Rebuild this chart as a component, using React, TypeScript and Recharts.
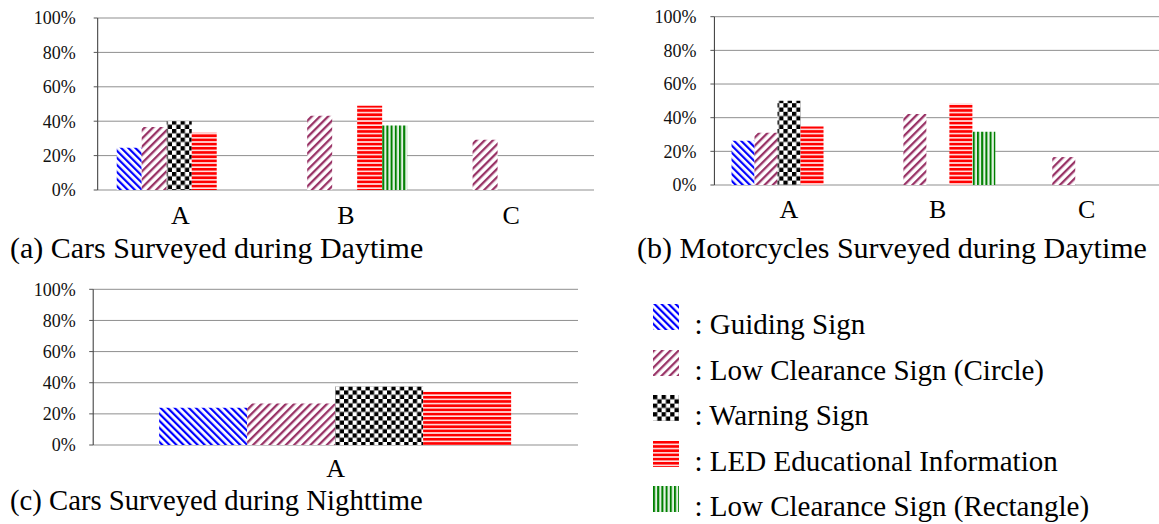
import React from 'react';
import { BarChart, Bar, XAxis, YAxis, CartesianGrid } from 'recharts';

const serif = "'Times New Roman', 'Liberation Serif', Tinos, Times, serif";

// series shared by all three panels
const seriesKeys = ['guiding', 'circle', 'warning', 'led', 'rect'];
const seriesNames = [
  'Guiding Sign',
  'Low Clearance Sign (Circle)',
  'Warning Sign',
  'LED Educational Information',
  'Low Clearance Sign (Rectangle)',
];

const percentTicks = [0, 20, 40, 60, 80, 100];

// (a) cars, daytime
const dayCategories = ['A', 'B', 'C'];
const carsDayGuiding = [24.5, null, null];
const carsDayCircle = [36.7, 43.2, 29.2];
const carsDayWarning = [40, null, null];
const carsDayLed = [33.3, 49, null];
const carsDayRect = [null, 37.5, null];

// (b) motorcycles, daytime
const motoDayGuiding = [26.3, null, null];
const motoDayCircle = [31.1, 42.2, 16.6];
const motoDayWarning = [50, null, null];
const motoDayLed = [34.7, 48.3, null];
const motoDayRect = [null, 31.7, null];

// (c) cars, nighttime
const nightCategories = ['A'];
const carsNightGuiding = [24];
const carsNightCircle = [26.6];
const carsNightWarning = [37.5];
const carsNightLed = [34.2];

const buildRows = (cats: string[], cols: (number | null)[][]) =>
  cats.map((name, i) => {
    const row: any = { name };
    cols.forEach((col, j) => {
      row[seriesKeys[j]] = col[i];
    });
    return row;
  });

const carsDay = buildRows(dayCategories, [carsDayGuiding, carsDayCircle, carsDayWarning, carsDayLed, carsDayRect]);
const motoDay = buildRows(dayCategories, [motoDayGuiding, motoDayCircle, motoDayWarning, motoDayLed, motoDayRect]);
const carsNight = buildRows(nightCategories, [carsNightGuiding, carsNightCircle, carsNightWarning, carsNightLed]);

const Patterns = () => (
  <svg width={0} height={0} style={{ position: 'absolute' }}>
    <defs>
      <pattern id="pat-guiding" patternUnits="userSpaceOnUse" width={5} height={5} patternTransform="rotate(-45)">
        <rect width={5} height={5} fill="#fff" />
        <rect width={2.2} height={5} fill="#0000ff" />
      </pattern>
      <pattern id="pat-circle" patternUnits="userSpaceOnUse" width={5.8} height={5.8} patternTransform="rotate(45)">
        <rect width={5.8} height={5.8} fill="#fff" />
        <rect width={2.3} height={5.8} fill="#993366" />
      </pattern>
      <pattern id="pat-warning" patternUnits="userSpaceOnUse" width={8.6} height={8.6}>
        <rect width={8.6} height={8.6} fill="#fff" />
        <rect width={4.3} height={4.3} fill="#000" />
        <rect x={4.3} y={4.3} width={4.3} height={4.3} fill="#000" />
      </pattern>
      <pattern id="pat-led" patternUnits="userSpaceOnUse" width={4.2} height={4.2}>
        <rect width={4.2} height={4.2} fill="#ffe2e2" />
        <rect width={4.2} height={2.6} fill="#ff0000" />
      </pattern>
      <pattern id="pat-rect" patternUnits="userSpaceOnUse" width={4.2} height={4.2}>
        <rect width={4.2} height={4.2} fill="#e4f2e4" />
        <rect width={2} height={4.2} fill="#008000" />
      </pattern>
    </defs>
  </svg>
);

const SepTick = (props: any) => (
  <line x1={props.x} x2={props.x} y1={props.y - 7} y2={props.y} stroke="#222" strokeWidth={1.2} />
);

interface PanelProps {
  data: any[];
  keys: string[];
  left: number;
  top: number;
  width: number;
  height: number;
  plotTop: number;
  plotBottom: number;
  yWidth: number;
  yGap: number;
  catGap: string;
  catMargin: number;
}

const Panel = ({ data, keys, left, top, width, height, plotTop, plotBottom, yWidth, yGap, catGap, catMargin }: PanelProps) => (
  <div style={{ position: 'absolute', left, top }}>
    <BarChart
      width={width}
      height={height}
      data={data}
      margin={{ top: plotTop, right: 1, bottom: 0, left: 0 }}
      barCategoryGap={catGap}
      barGap={0}
    >
      <CartesianGrid vertical={false} stroke="#8f8f8f" />
      <XAxis
        xAxisId="sep"
        type="number"
        domain={[0, data.length]}
        ticks={data.map((_, i) => i + 1)}
        allowDataOverflow
        interval={0}
        height={0}
        axisLine={{ stroke: '#555', strokeWidth: 1.5 }}
        tickLine={false}
        tickSize={0}
        tickMargin={0}
        tick={SepTick}
      />
      <XAxis
        dataKey="name"
        height={height - plotBottom}
        axisLine={false}
        tickLine={false}
        tickSize={0}
        tickMargin={catMargin}
        interval={0}
        tick={{ fill: '#000', fontSize: 26, fontFamily: serif }}
      />
      <YAxis
        width={yWidth}
        domain={[0, 100]}
        ticks={percentTicks}
        interval={0}
        tickFormatter={(v) => `${v}%`}
        axisLine={{ stroke: '#333' }}
        tickLine={{ stroke: '#555' }}
        tickSize={4}
        tickMargin={yGap - 4}
        tick={{ fill: '#111', fontSize: 18, fontFamily: serif }}
      />
      {keys.map((k) => (
        <Bar key={k} dataKey={k} fill={`url(#pat-${k})`} isAnimationActive={false} />
      ))}
    </BarChart>
  </div>
);

const captionStyle: React.CSSProperties = {
  position: 'absolute',
  fontFamily: serif,
  fontSize: 30,
  lineHeight: '30px',
  color: '#000',
  whiteSpace: 'nowrap',
};

const Legend = () => (
  <div style={{ position: 'absolute', left: 653, top: 311 }}>
    {seriesKeys.map((k, i) => (
      <div key={k} style={{ position: 'relative', height: 45.6, width: 480 }}>
        <svg width={26} height={26} style={{ position: 'absolute', left: 0, top: -7 }}>
          <rect width={26} height={26} fill={`url(#pat-${k})`} />
        </svg>
        <div
          style={{
            position: 'absolute',
            left: 41.5,
            top: 0,
            fontFamily: serif,
            fontSize: 29,
            lineHeight: '26px',
            whiteSpace: 'nowrap',
            color: '#000',
          }}
        >
          : {seriesNames[i]}
        </div>
      </div>
    ))}
  </div>
);

export default function App() {
  return (
    <div
      style={{
        position: 'absolute',
        left: 0,
        top: 0,
        width: 1159,
        height: 524,
        overflow: 'hidden',
        background: '#fff',
      }}
    >
      <Patterns />
      <Panel
        data={carsDay}
        keys={seriesKeys}
        left={0}
        top={0}
        width={595}
        height={230}
        plotTop={18}
        plotBottom={190}
        yWidth={97.7}
        yGap={22}
        catGap="11.5%"
        catMargin={15.5}
      />
      <Panel
        data={motoDay}
        keys={seriesKeys}
        left={620}
        top={0}
        width={542}
        height={225}
        plotTop={16.7}
        plotBottom={185}
        yWidth={94.4}
        yGap={18}
        catGap="11.5%"
        catMargin={14.5}
      />
      <Panel
        data={carsNight}
        keys={seriesKeys.slice(0, 4)}
        left={0}
        top={270}
        width={579}
        height={215}
        plotTop={19.3}
        plotBottom={175}
        yWidth={93.2}
        yGap={17.4}
        catGap="13.6%"
        catMargin={13.2}
      />
      <div style={{ ...captionStyle, left: 10, top: 232.7 }}>(a) Cars Surveyed during Daytime</div>
      <div style={{ ...captionStyle, left: 637, top: 232.7 }}>(b) Motorcycles Surveyed during Daytime</div>
      <div style={{ ...captionStyle, left: 10, top: 485, fontSize: 28.7 }}>(c) Cars Surveyed during Nighttime</div>
      <Legend />
    </div>
  );
}
